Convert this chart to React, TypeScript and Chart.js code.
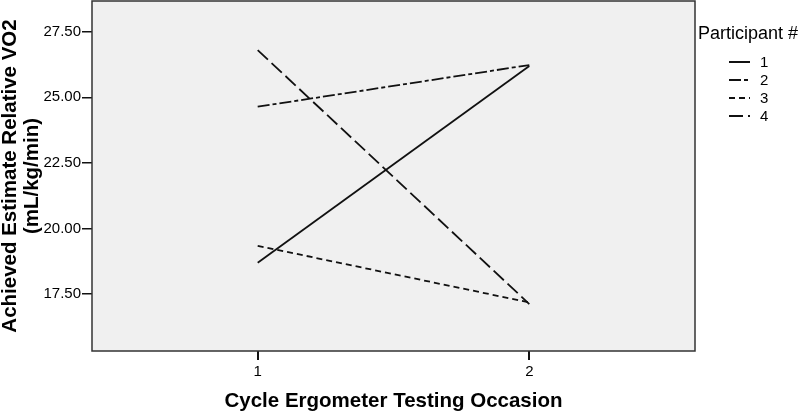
import React, { useEffect, useRef } from 'react';
import { Chart, registerables } from 'chart.js';

Chart.register(...registerables);

// ---- data ----
const occasions = [1, 2];
const participants = ['1', '2', '3', '4'];
const participant1 = [18.69, 26.19];
const participant2 = [24.64, 26.23];
const participant3 = [19.34, 17.18];
const participant4 = [26.8, 17.12];
const yTickValues = [17.5, 20, 22.5, 25, 27.5];
const xTickValues = [1, 2];

const seriesValues = [participant1, participant2, participant3, participant4];
const dashStyles: number[][] = [[], [12, 3, 4, 3], [6, 4], [14, 5]];

const FONT = '"Liberation Sans", Arial, Helvetica, sans-serif';
const INK = '#111111';

const framePlugin = {
  id: 'frame',
  beforeDraw(chart: any) {
    const { ctx, chartArea: a } = chart;
    ctx.save();
    ctx.fillStyle = '#f0f0f0';
    ctx.fillRect(a.left, a.top, a.right - a.left, a.bottom - a.top);
    ctx.restore();
  },
  afterDraw(chart: any) {
    const { ctx, chartArea: a } = chart;
    ctx.save();
    ctx.strokeStyle = '#333333';
    ctx.lineWidth = 1.5;
    ctx.strokeRect(a.left, a.top, a.right - a.left, a.bottom - a.top);
    ctx.restore();
  },
};

const legendPlugin = {
  id: 'customLegend',
  afterDraw(chart: any) {
    const { ctx, chartArea: a } = chart;
    const x0 = a.right + 3;
    ctx.save();
    ctx.fillStyle = '#000';
    ctx.textBaseline = 'middle';
    ctx.textAlign = 'left';
    ctx.font = `18px ${FONT}`;
    ctx.fillText('Participant #', x0, 34);
    ctx.font = `15px ${FONT}`;
    chart.data.datasets.forEach((ds: any, i: number) => {
      const y = 62 + i * 18;
      ctx.strokeStyle = INK;
      ctx.lineWidth = 2;
      ctx.setLineDash(ds.borderDash || []);
      ctx.beginPath();
      ctx.moveTo(x0 + 31, y);
      ctx.lineTo(x0 + 52, y);
      ctx.stroke();
      ctx.setLineDash([]);
      ctx.fillText(ds.label, x0 + 62, y + 1);
    });
    ctx.restore();
  },
};

export default function App() {
  const ref = useRef<HTMLCanvasElement | null>(null);

  useEffect(() => {
    if (!ref.current) return;
    const datasets = participants.map((p, i) => ({
      label: p,
      data: occasions.map((o, j) => ({ x: o, y: seriesValues[i][j] })),
      borderColor: INK,
      borderWidth: 1.8,
      borderDash: dashStyles[i],
      pointRadius: 0,
      fill: false,
      tension: 0,
    }));

    const chart = new Chart(ref.current, {
      type: 'line',
      data: { datasets },
      plugins: [framePlugin, legendPlugin],
      options: {
        responsive: false,
        animation: false,
        layout: { padding: { top: 1, right: 105, left: 0, bottom: 0 } },
        plugins: { legend: { display: false }, tooltip: { enabled: false } },
        scales: {
          x: {
            type: 'linear',
            min: 0.39,
            max: 2.61,
            afterBuildTicks: (s: any) => {
              s.ticks = xTickValues.map((v) => ({ value: v }));
            },
            afterFit: (s: any) => {
              s.height = 64;
              s.paddingLeft = 0;
              s.paddingRight = 0;
            },
            grid: {
              drawOnChartArea: false,
              drawTicks: true,
              tickLength: 9,
              color: INK,
              lineWidth: 2,
            },
            border: { display: false },
            ticks: {
              color: '#000',
              padding: 3,
              font: { family: FONT, size: 15 },
              callback: (v: any) => String(v),
            },
            title: {
              display: true,
              text: 'Cycle Ergometer Testing Occasion',
              color: '#000',
              font: { family: FONT, size: 20.5, weight: 'bold', lineHeight: 1.2 },
              padding: { top: 0, bottom: 1 },
            },
          },
          y: {
            type: 'linear',
            min: 15.33,
            max: 28.67,
            afterBuildTicks: (s: any) => {
              s.ticks = yTickValues.map((v) => ({ value: v }));
            },
            afterFit: (s: any) => {
              s.width = 92;
              s.paddingTop = 0;
              s.paddingBottom = 0;
            },
            grid: {
              drawOnChartArea: false,
              drawTicks: true,
              tickLength: 10,
              color: INK,
              lineWidth: 1.5,
            },
            border: { display: false },
            ticks: {
              color: '#000',
              padding: 1,
              font: { family: FONT, size: 15 },
              callback: (v: any) => Number(v).toFixed(2),
            },
            title: {
              display: true,
              text: ['Achieved Estimate Relative VO2', '(mL/kg/min)'],
              color: '#000',
              font: { family: FONT, size: 20.5, weight: 'bold', lineHeight: 1.07 },
              padding: { top: -1, bottom: 0 },
            },
          },
        },
      },
    } as any);

    return () => chart.destroy();
  }, []);

  return (
    <div style={{ position: 'absolute', left: 0, top: 0, width: 800, height: 415, background: '#fff' }}>
      <canvas ref={ref} width={800} height={415} style={{ display: 'block' }} />
    </div>
  );
}
